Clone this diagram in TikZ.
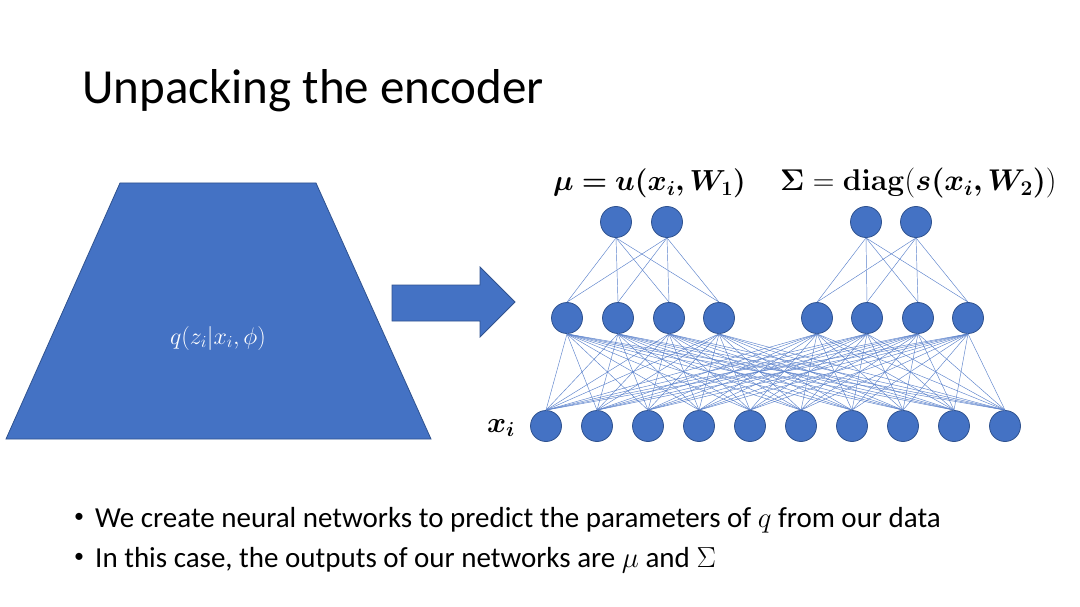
\RequirePackage{fix-cm}
\documentclass[tikz,border=0pt]{standalone}
\usepackage{amsmath}
\usepackage{bm}
\usepackage[no-math]{fontspec}
\setmainfont{Carlito}
\definecolor{nodeblue}{HTML}{4472C4}
\definecolor{edgeblue}{HTML}{2F528F}
\definecolor{linkblue}{HTML}{5B82CC}
\tikzset{
  neuron/.style={circle, fill=nodeblue, draw=edgeblue, line width=0.8pt, minimum size=31pt, inner sep=0pt},
  link/.style={draw=linkblue, line width=0.45pt},
  shapefill/.style={fill=nodeblue, draw=edgeblue, line width=0.8pt},
  bullettext/.style={anchor=base west, inner sep=0pt, font=\fontsize{29}{32}\selectfont},
  bulletmark/.style={inner sep=0pt, font=\fontsize{20}{22}\selectfont}
}
\begin{document}
\begin{tikzpicture}[x=1pt,y=-1pt]
\useasboundingbox[fill=white] (0,0) rectangle (1080,607);
% title
\node[anchor=base west, inner sep=0pt, font=\fontsize{49}{54}\selectfont] (title) at (82,104) {Unpacking the encoder};
% trapezoid
\path[shapefill] (120,183) -- (316,183) -- (431,439) -- (6,439) -- cycle;
\node[text=white, font=\fontsize{24}{28}\selectfont] (q) at (218,338) {$q(z_i|x_i,\phi)$};
% arrow
\path[shapefill] (392,285) -- (480,285) -- (480,267) -- (515,302) -- (480,337) -- (480,321) -- (392,321) -- cycle;
% bottom layer
\foreach \i in {1,...,10} {
  \node[neuron] (b\i) at ({546+51*(\i-1)},426) {};
}
% middle layer
\foreach \i/\x in {1/567,2/618,3/669,4/719,5/817,6/867,7/918,8/968} {
  \node[neuron] (m\i) at (\x,318) {};
}
% top layer
\foreach \i/\x in {1/616,2/667,3/866,4/916} {
  \node[neuron] (t\i) at (\x,222) {};
}
% links
\foreach \i in {1,...,8} {
  \foreach \j in {1,...,10} {
    \draw[link] (m\i.south) -- (b\j.north);
  }
}
\foreach \t in {1,2} {
  \foreach \m in {1,...,4} {
    \draw[link] (t\t.south) -- (m\m.north);
  }
}
\foreach \t in {3,4} {
  \foreach \m in {5,...,8} {
    \draw[link] (t\t.south) -- (m\m.north);
  }
}
% labels
\node[anchor=base, inner sep=0pt, font=\fontsize{29}{32}\selectfont] (xi) at (501,432) {$\bm{x_i}$};
\node[anchor=base west, inner sep=0pt, font=\fontsize{29}{32}\selectfont] (mu) at (553,191) {$\bm{\mu = u(x_i, W_1)}$};
\node[anchor=base west, inner sep=0pt, font=\fontsize{30}{33}\selectfont] (sig) at (780,191) {$\bm{\Sigma} = \mathbf{diag}(\bm{s(x_i, W_2)})$};
% bullets
\node[bulletmark] (d1) at (79,518) {\textbullet};
\node[bullettext] (l1) at (95,527) {We create neural networks to predict the parameters of $q$ from our data};
\node[bulletmark] (d2) at (79,558) {\textbullet};
\node[bullettext] (l2) at (95,567) {In this case, the outputs of our networks are $\mu$ and $\Sigma$};
\end{tikzpicture}
\end{document}
